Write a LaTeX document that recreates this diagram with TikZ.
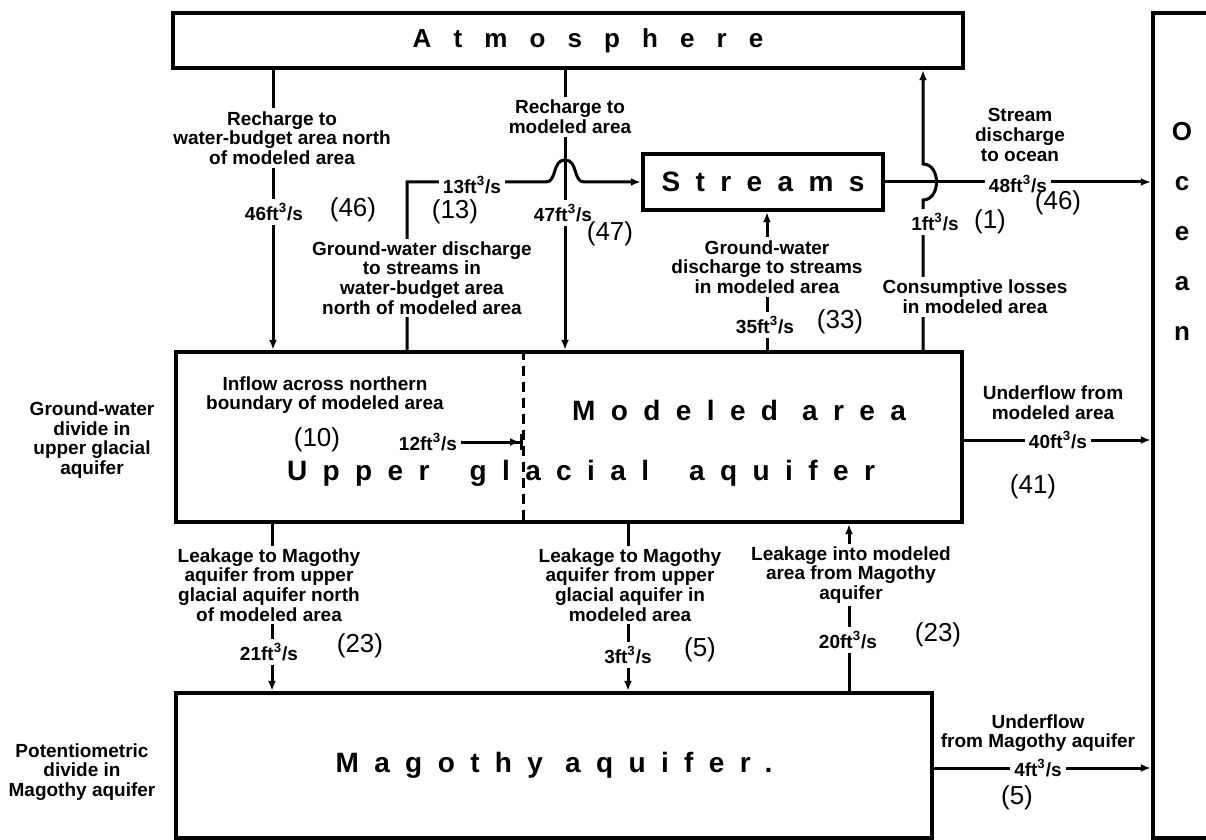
\documentclass[tikz,border=0pt]{standalone}
\usepackage{fontspec}
\setmainfont{Liberation Sans}
\newfontfamily\bigfont[LetterSpace=55]{Liberation Sans}
\newfontfamily\atmfont[LetterSpace=85]{Liberation Sans}
\usetikzlibrary{arrows.meta}

\begin{document}
\begin{tikzpicture}[x=0.5pt,y=-0.5pt,
    box/.style={draw,line width=2.2pt,inner sep=0pt},
    flow/.style={line width=1.5pt,-{Latex[length=5pt,width=4pt]}},
    lbl/.style={fill=white,align=center,inner sep=1.5pt,font=\bfseries\fontsize{9.5}{9.8}\selectfont},
    qty/.style={fill=white,inner sep=2pt,font=\bfseries\fontsize{9.5}{10}\selectfont},
    hand/.style={font=\fontsize{13}{14}\selectfont},
    big/.style={font=\bigfont\bfseries\fontsize{14}{16}\selectfont}]
\useasboundingbox (0,0) rectangle (1206,840);

\node[box,minimum width=395pt,minimum height=27.5pt] (atm) at (568,40.5)
    {\atmfont\bfseries\fontsize{13}{15}\selectfont\hspace*{20pt}Atmosphere};
\node[box,big,minimum width=120pt,minimum height=28pt] (strm) at (763,182) {Streams};
\node[box,minimum width=393pt,minimum height=85pt] (ug) at (569,437) {};
\node[box,big,minimum width=378pt,minimum height=72.5pt] (mag) at (554,765.5) {Magothy\hspace{11pt}aquifer.};
\node[box,minimum width=53.5pt,minimum height=412.5pt] (ocn) at (1206.5,425.5) {};
\node[font=\bfseries\fontsize{13}{25}\selectfont,align=center] (ocnt) at (1182,231) {O\\c\\e\\a\\n};
\node[big] (mod) at (739,410) {Modeled\hspace{12pt}area};
\node[big] (ugt) at (581,473) {Upper\hspace{20pt}glacial\hspace{20pt}aquifer};

\coordinate (rchN) at (273,0);
\coordinate (rchM) at (565,0);
\coordinate (gwN) at (407,0);
\coordinate (gwM) at (767,0);
\coordinate (cons) at (923,0);
\coordinate (lkN) at (272,0);
\coordinate (lkM) at (628,0);
\coordinate (lkIn) at (849,0);
\coordinate (dv) at (523,0);
\coordinate (uf) at (0,440);
\coordinate (mf) at (0,768);

\draw[flow] (atm.south -| rchN) -- (ug.north -| rchN);
\draw[flow] (atm.south -| rchM) -- (ug.north -| rchM);
\draw[flow] (ug.north -| gwN) |- (546,182) .. controls (557,182) and (552,160) .. (565,160)
    .. controls (578,160) and (573,182) .. (584,182) -- (strm.west);
\draw[flow] (strm.east) -- (strm.east -| ocn.west);
\draw[flow] (ug.north -| cons) -- (923,200) .. controls (941,200) and (941,164) .. (923,164) -- (atm.south -| cons);
\draw[flow] (ug.north -| gwM) -- (strm.south -| gwM);
\draw[flow] (ug.east |- uf) -- (ocn.west |- uf);
\draw[flow] (ug.south -| lkN) -- (mag.north -| lkN);
\draw[flow] (ug.south -| lkM) -- (mag.north -| lkM);
\draw[flow] (mag.north -| lkIn) -- (ug.south -| lkIn);
\draw[flow] (mag.east |- mf) -- (ocn.west |- mf);
\draw[line width=1.5pt,dash pattern=on 5pt off 3pt] (ug.north -| dv) -- (ug.south -| dv);

\node[lbl] (l1) at (282,138) {Recharge to\\water-budget area north\\of modeled area};
\node[qty] (v1) at (274,212) {46ft\textsuperscript{3}/s};
\node[hand] (h1) at (353,210) {(46)};
\node[lbl] (l2) at (570,117) {Recharge to\\modeled area};
\node[qty] (v2) at (563,213) {47ft\textsuperscript{3}/s};
\node[hand] (h2) at (610,234) {(47)};
\node[lbl] (l3) at (422,278) {Ground-water discharge\\to streams in\\water-budget area\\north of modeled area};
\node[qty] (v3) at (472,185) {13ft\textsuperscript{3}/s};
\node[hand] (h3) at (455,212) {(13)};
\node[lbl] (l4) at (1020,135) {Stream\\discharge\\to ocean};
\node[qty] (v4) at (1018,184) {48ft\textsuperscript{3}/s};
\node[hand] (h4) at (1058,203) {(46)};
\node[lbl] (l5) at (975,297) {Consumptive losses\\in modeled area};
\node[qty] (v5) at (935,222) {1ft\textsuperscript{3}/s};
\node[hand] (h5) at (990,222) {(1)};
\node[lbl] (l6) at (767,267) {Ground-water\\discharge to streams\\in modeled area};
\node[qty] (v6) at (765,325) {35ft\textsuperscript{3}/s};
\node[hand] (h6) at (840,322) {(33)};
\node[lbl] (l7) at (1053,403) {Underflow from\\modeled area};
\node[qty] (v7) at (1058,440) {40ft\textsuperscript{3}/s};
\node[hand] (h7) at (1033,487) {(41)};
\node[lbl] (l8) at (269,585) {Leakage to Magothy\\aquifer from upper\\glacial aquifer north\\of modeled area};
\node[qty] (v8) at (269,652) {21ft\textsuperscript{3}/s};
\node[hand] (h8) at (360,646) {(23)};
\node[lbl] (l9) at (630,585) {Leakage to Magothy\\aquifer from upper\\glacial aquifer in\\modeled area};
\node[qty] (v9) at (628,655) {3ft\textsuperscript{3}/s};
\node[hand] (h9) at (700,650) {(5)};
\node[lbl] (l10) at (851,575) {Leakage into modeled\\area from Magothy\\aquifer};
\node[qty] (v10) at (848,640) {20ft\textsuperscript{3}/s};
\node[hand] (h10) at (938,635) {(23)};
\node[lbl] (l11) at (1038,733) {Underflow\\from Magothy aquifer};
\node[qty] (v11) at (1038,768) {4ft\textsuperscript{3}/s};
\node[hand] (h11) at (1017,798) {(5)};
\node[lbl] (l12) at (325,395) {Inflow across northern\\boundary of modeled area};
\node[qty] (v12) at (428,442) {12ft\textsuperscript{3}/s};
\node[hand] (h12) at (317,440) {(10)};
\node[lbl] (gwd) at (92,440) {Ground-water\\divide in\\upper glacial\\aquifer};
\node[lbl] (pd) at (82,772) {Potentiometric\\divide in\\Magothy aquifer};

\draw[line width=1.5pt,-{Latex[length=5pt,width=4pt]Bar[width=8pt,line width=1.5pt]}] (v12.east) -- (v12.east -| dv);
\end{tikzpicture}
\end{document}
